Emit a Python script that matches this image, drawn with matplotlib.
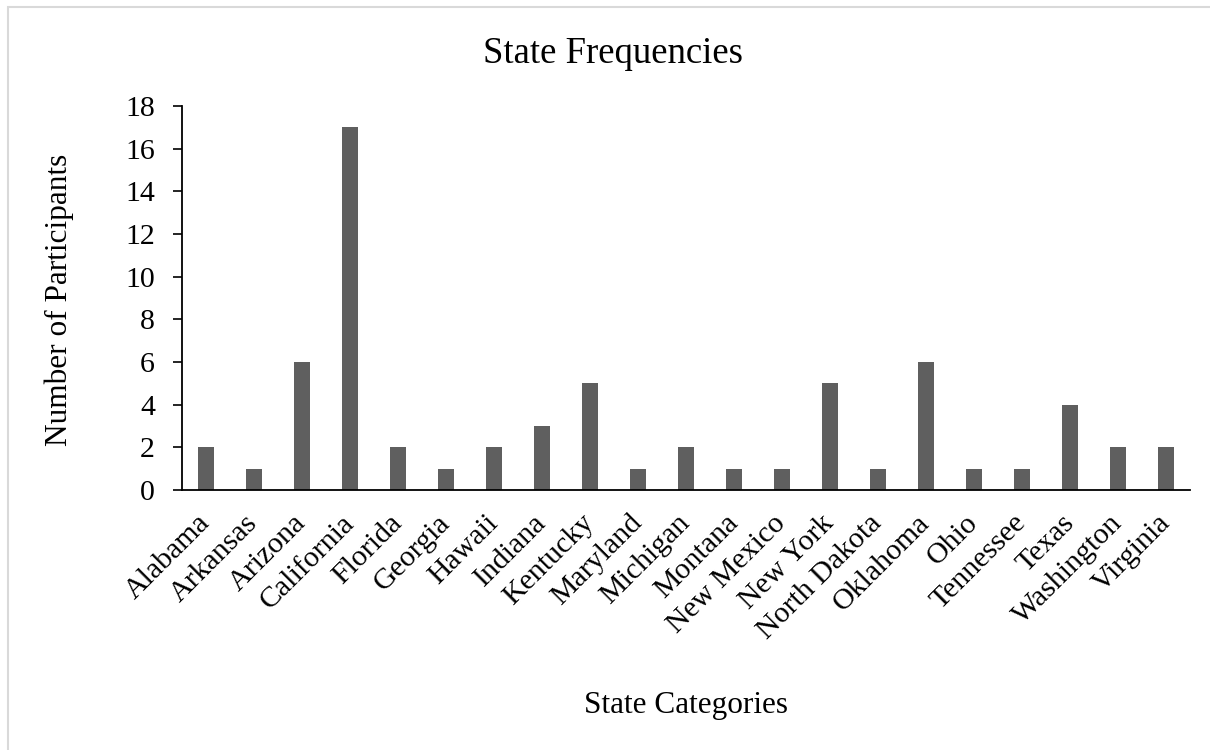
import matplotlib
matplotlib.use("Agg")
import matplotlib.pyplot as plt
from matplotlib.patches import Rectangle

states = ["Alabama", "Arkansas", "Arizona", "California", "Florida", "Georgia",
          "Hawaii", "Indiana", "Kentucky", "Maryland", "Michigan", "Montana",
          "New Mexico", "New York", "North Dakota", "Oklahoma", "Ohio",
          "Tennessee", "Texas", "Washington", "Virginia"]
counts = [2, 1, 6, 17, 2, 1, 2, 3, 5, 1, 2, 1, 1, 5, 1, 6, 1, 1, 4, 2, 2]
yticks = [0, 2, 4, 6, 8, 10, 12, 14, 16, 18]

plt.rcParams['font.family'] = ['Liberation Serif', 'DejaVu Serif']

W, H = 1210, 750
fig = plt.figure(figsize=(W / 100, H / 100), dpi=100)
fig.patch.set_facecolor('white')

# light gray chart border
fig.add_artist(Rectangle((7.5 / W, -0.1), 1.2, (H - 7.5) / H + 0.1,
                         transform=fig.transFigure, fill=False,
                         edgecolor='#d9d9d9', linewidth=1.5))

ax = fig.add_axes([182 / W, (H - 490) / H, (1190 - 182) / W, (490 - 106) / H])
x = list(range(len(states)))
ax.bar(x, counts, width=0.32, color='#5f5f5f', zorder=2)
ax.set_xlim(-0.5, len(states) - 0.5)
ax.set_ylim(0, 18)
ax.set_yticks(yticks)
ax.set_yticklabels([str(v) for v in yticks], fontsize=21.5)
ax.set_xticks(x)
ax.set_xticklabels(states, fontsize=21.5, rotation=45, ha='right',
                   va='center', rotation_mode='anchor')
ax.tick_params(axis='x', length=0, pad=21)
ax.tick_params(axis='y', length=6.5, width=1.2, direction='out', pad=13)
for s in ['top', 'right']:
    ax.spines[s].set_visible(False)
for s in ['left', 'bottom']:
    ax.spines[s].set_linewidth(1.3)
    ax.spines[s].set_color('black')

fig.text(59 / W, 1 - 300 / H, "Number of Participants", fontsize=22.5,
         rotation=90, ha='center', va='center')
fig.text(686 / W, 1 - 713 / H, "State Categories", fontsize=22.5,
         ha='center', va='baseline')
fig.text(613 / W, 1 - 63 / H, "State Frequencies", fontsize=26.5,
         ha='center', va='baseline')

fig.savefig("out.png", dpi=100, facecolor='white')
